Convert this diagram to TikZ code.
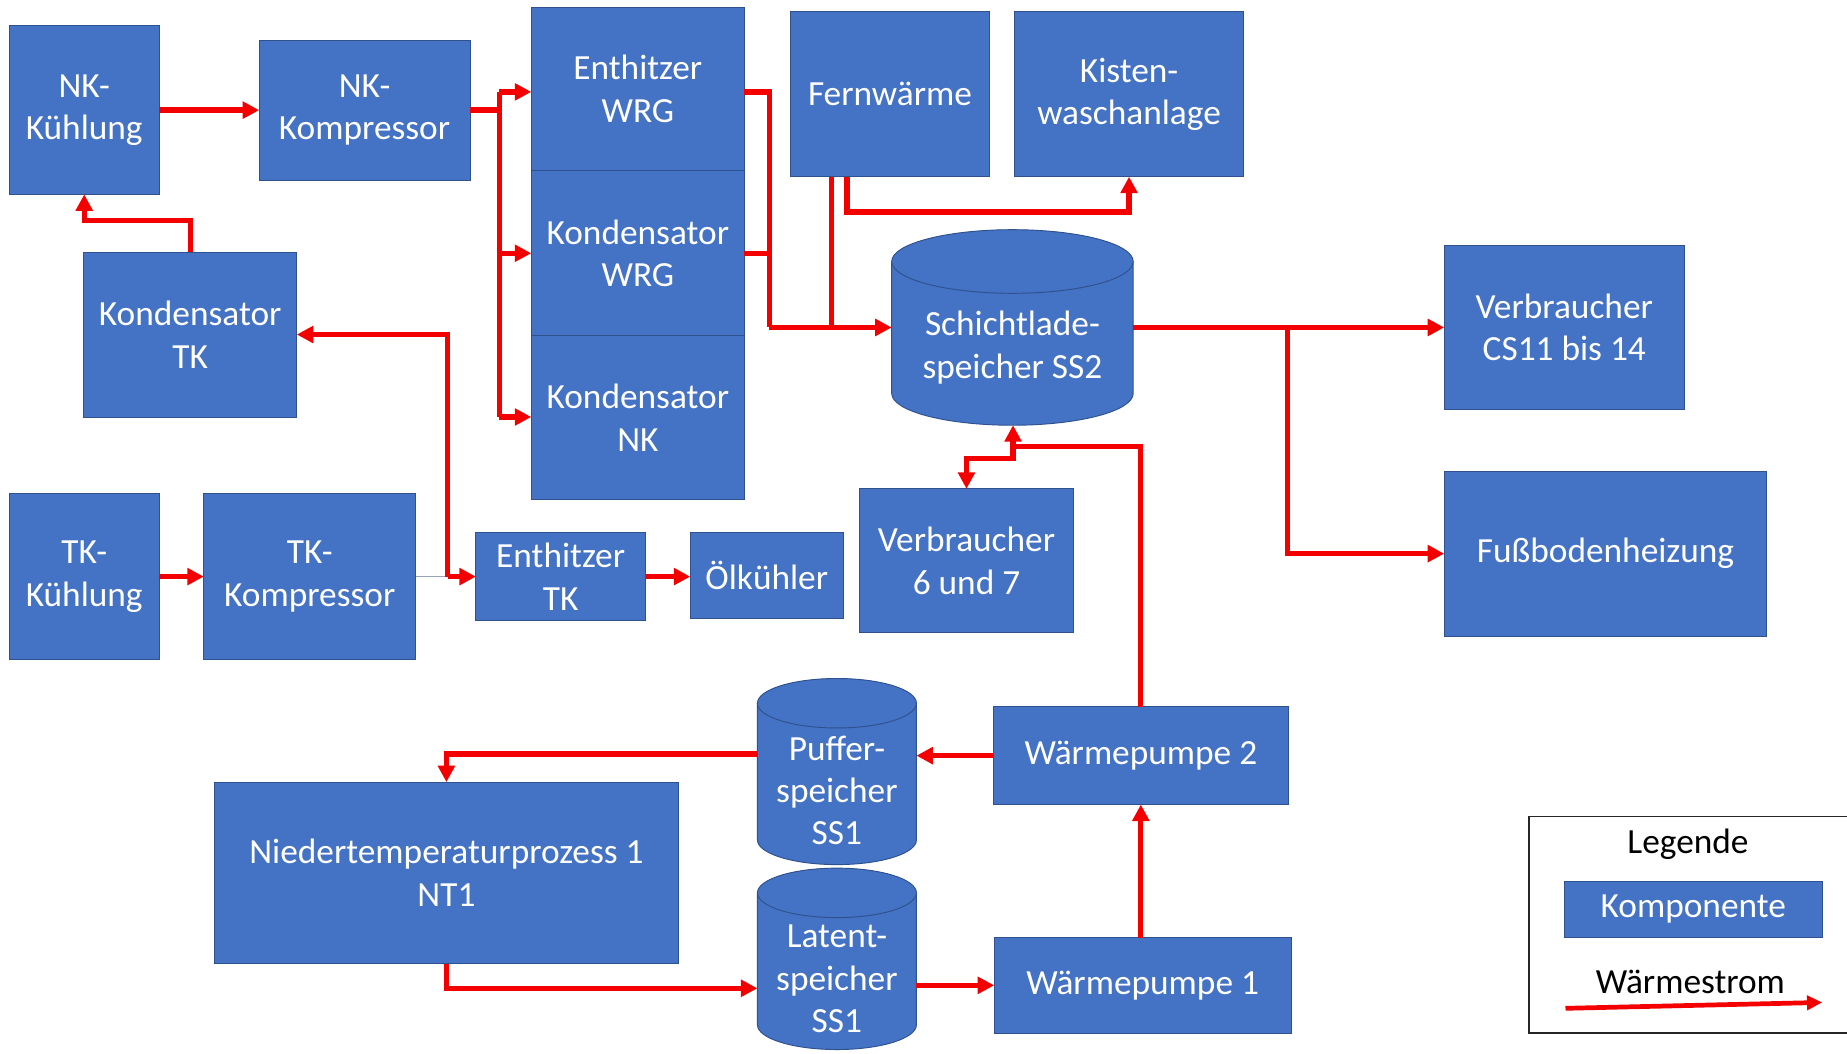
\documentclass[tikz,border=0pt]{standalone}
\usepackage{fontspec}
\setmainfont{Carlito}
\usetikzlibrary{arrows.meta}
\definecolor{compblue}{HTML}{4472C4}
\definecolor{compedge}{HTML}{2F528F}
\definecolor{heatred}{HTML}{F50000}
\definecolor{thinline}{HTML}{97A3B8}

% vertical storage tank: #1 left, #2 right, #3 top, #4 bottom, #5 half height of the end ellipse
\newcommand{\tankshape}[5]{%
  \pgfmathsetmacro\tcx{(#1+#2)/2}%
  \pgfmathsetmacro\trx{(#2-#1)/2}%
  \fill[compblue] (#1,#3+#5) -- (#1,#4-#5)
    arc[start angle=180,end angle=360,x radius=\trx pt,y radius=#5 pt]
    -- (#2,#3+#5)
    arc[start angle=0,end angle=180,x radius=\trx pt,y radius=#5 pt] -- cycle;
  \draw[compedge,line width=0.8pt] (#1,#3+#5) -- (#1,#4-#5)
    arc[start angle=180,end angle=360,x radius=\trx pt,y radius=#5 pt]
    -- (#2,#3+#5);
  \draw[compedge,line width=0.8pt,fill=compblue] (\tcx,#3+#5)
    ellipse[x radius=\trx pt,y radius=#5 pt];
}

\begin{document}
\begin{tikzpicture}[x=1pt,y=-1pt,
  comp/.style={draw=compedge,line width=0.8pt,fill=compblue,text=white,
    align=center,inner sep=0pt,outer sep=0pt,font=\fontsize{30}{36}\selectfont},
  comptext/.style={text=white,align=center,inner sep=0pt,font=\fontsize{30}{36}\selectfont},
  anchorbox/.style={inner sep=0pt,outer sep=0pt},
  legtext/.style={text=black,inner sep=0pt,font=\fontsize{30}{36}\selectfont},
  flow/.style={draw=heatred,line width=4.5pt},
  flowto/.style={flow,-{Triangle[length=14pt,width=14pt]}},
]
\useasboundingbox (0,0) rectangle (1568,894);
\clip (0,0) rectangle (1568,894);
\fill[white] (0,0) rectangle (1568,894);

% components
\node[comp,minimum width=127pt,minimum height=143pt] (nkk) at (71.5,93.5) {NK-\\Kühlung};
\node[comp,minimum width=179pt,minimum height=119pt] (nkkomp) at (309.5,93.5) {NK-\\Kompressor};
\node[comp,minimum width=181pt,minimum height=139pt] (ewrg) at (541.5,75.5) {Enthitzer\\WRG};
\node[comp,minimum width=181pt,minimum height=140pt] (kwrg) at (541.5,215) {Kondensator\\WRG};
\node[comp,minimum width=181pt,minimum height=139pt] (knk) at (541.5,354.5) {Kondensator\\NK};
\node[comp,minimum width=181pt,minimum height=140pt] (ktk) at (161.5,284) {Kondensator\\TK};
\node[comp,minimum width=127pt,minimum height=141pt] (tkk) at (71.5,489.5) {TK-\\Kühlung};
\node[comp,minimum width=180pt,minimum height=141pt] (tkkomp) at (263,489.5) {TK-\\Kompressor};
\node[comp,minimum width=144pt,minimum height=75pt] (etk) at (476,489.5) {Enthitzer\\TK};
\node[comp,minimum width=130pt,minimum height=73pt] (oel) at (651,488.5) {Ölkühler};
\node[comp,minimum width=169pt,minimum height=140pt] (fw) at (755.5,80) {Fernwärme};
\node[comp,minimum width=195pt,minimum height=140pt] (kwa) at (958.5,80) {Kisten-\\waschanlage};
\node[comp,minimum width=204pt,minimum height=140pt] (vcs) at (1328,278) {Verbraucher\\CS11 bis 14};
\node[comp,minimum width=274pt,minimum height=140pt] (fbh) at (1363,470) {Fußbodenheizung};
\node[comp,minimum width=181pt,minimum height=122pt] (v67) at (820.5,476) {Verbraucher\\6 und 7};
\node[comp,minimum width=251pt,minimum height=83pt] (wp2) at (968.5,641.5) {Wärmepumpe 2};
\node[comp,minimum width=252pt,minimum height=81pt] (wp1) at (970,836.5) {Wärmepumpe 1};
\node[comp,minimum width=394pt,minimum height=154pt] (nt1) at (379,741) {Niedertemperaturprozess 1\\NT1};

% storage tanks
\tankshape{757}{962}{195}{361}{27}
\node[anchorbox,minimum width=205pt,minimum height=166pt] (ss2) at (859.5,278) {};
\node[comptext] (ss2txt) at (859.5,295) {Schichtlade-\\speicher SS2};
\tankshape{643}{778}{576}{734}{21}
\node[anchorbox,minimum width=135pt,minimum height=158pt] (puffer) at (710.5,655) {};
\node[comptext] (puffertxt) at (710.5,671) {Puffer-\\speicher\\SS1};
\tankshape{643}{778}{737}{891}{21}
\node[anchorbox,minimum width=135pt,minimum height=154pt] (latent) at (710.5,814) {};
\node[comptext] (latenttxt) at (710.5,831) {Latent-\\speicher\\SS1};

% junction points of the heat lines
\coordinate (b1) at (424,78);
\coordinate (b2) at (424,215);
\coordinate (b3) at (424,354);
\coordinate (c1) at (653,78);
\coordinate (c2) at (653,278);
\coordinate (f1) at (706,150);
\coordinate (f2) at (719,180);
\coordinate (d1) at (1093,278);
\coordinate (e1) at (860,379);
\coordinate (e2) at (860,389);
\coordinate (g1) at (380,489.5);
\coordinate (h1) at (160,187);
\coordinate (k1) at (379,640);
\coordinate (l1) at (379,839);

% NK circuit
\draw[flowto] (nkk.east) -- (nkkomp.west);
\draw[flow] (nkkomp.east) -- (nkkomp.east -| b1);
\draw[flow] (b1) -- (b3);
\draw[flowto] (b1) -- (b1 -| ewrg.west);
\draw[flowto] (b2) -- (b2 -| kwrg.west);
\draw[flowto] (b3) -- (b3 -| knk.west);

% heat recovery into the stratified storage
\draw[flow] (ewrg.east |- c1) -- (c1) -- (c2);
\draw[flow] (kwrg.east) -- (kwrg.east -| c1);
\draw[flowto] (c2) -- (c2 -| ss2.west);
\draw[flow] (f1) -- (f1 |- c2);
\draw[flowto] (fw.south -| f2) -- (f2) -- (f2 -| kwa.south) -- (kwa.south);

% consumers of the stratified storage
\draw[flowto] (ss2.east) -- (vcs.west);
\draw[flowto] (d1) -- (d1 |- fbh.west) -- (fbh.west);
\draw[flowto] (wp2.north) -- (wp2.north |- e1) -- (e1) -- (e1 |- ss2.south);
\draw[flowto] (e1) -- (e2) -- (e2 -| v67.north) -- (v67.north);

% TK circuit
\draw[flowto] (tkk.east) -- (tkkomp.west);
\draw[thinline,line width=1pt] (tkkomp.east) -- (g1);
\draw[flowto] (g1) -- (etk.west);
\draw[flowto] (g1) -- (g1 |- ktk.east) -- (ktk.east);
\draw[flowto] (ktk.north) -- (ktk.north |- h1) -- (nkk.south |- h1) -- (nkk.south);
\draw[flowto] (etk.east) -- (etk.east -| oel.west);

% low temperature circuit
\draw[flowto] (wp2.west) -- (wp2.west -| puffer.east);
\draw[flowto] (puffer.west |- k1) -- (k1) -- (nt1.north);
\draw[flowto] (nt1.south) -- (l1) -- (l1 -| latent.west);
\draw[flowto] (latent.east |- wp1.west) -- (wp1.west);
\draw[flowto] (wp2.south |- wp1.north) -- (wp2.south);

% legend
\draw[black!85,line width=1.3pt,fill=white] (1298,693) rectangle (1600,877);
\node[legtext] (legtitle) at (1433,717) {Legende};
\node[comp,minimum width=219pt,minimum height=48pt] (legcomp) at (1437.5,772) {Komponente};
\node[legtext] (legflow) at (1435,834) {Wärmestrom};
\coordinate (la) at (1329,856);
\coordinate (lb) at (1547,851);
\draw[flow,line width=4pt,-{Triangle[length=13pt,width=12pt]}] (la) -- (lb);
\end{tikzpicture}
\end{document}
